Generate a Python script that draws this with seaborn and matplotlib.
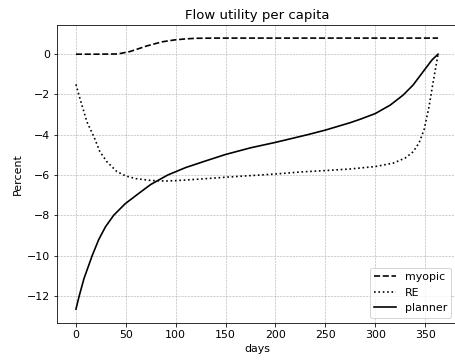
import matplotlib
matplotlib.use("Agg")
import matplotlib.pyplot as plt
import seaborn as sns

# values
myopic_days = [0, 20, 40, 45, 54, 62, 71, 80, 87, 99, 110, 120, 140, 200, 300, 363]
myopic_vals = [0, 0, 0.01, 0.04, 0.13, 0.26, 0.41, 0.53, 0.62, 0.71, 0.76, 0.79, 0.8, 0.8, 0.8, 0.8]

re_days = [0, 4, 11, 18, 24, 31, 41, 50, 60, 75, 90, 100, 125, 150, 175, 200,
           225, 250, 275, 300, 318, 330, 338, 344, 349, 354, 357, 360, 363]
re_vals = [-1.5, -2.2, -3.36, -4.1, -4.84, -5.34, -5.83, -6.05, -6.18, -6.27, -6.3, -6.28,
           -6.2, -6.11, -6.03, -5.95, -5.85, -5.78, -5.7, -5.58, -5.41, -5.16, -4.85, -4.4,
           -3.75, -2.6, -1.7, -0.85, 0.0]

planner_days = [0, 3.3, 8, 16.3, 22.8, 29.5, 37.8, 49.5, 66, 75, 92, 110, 130, 150, 175, 200,
                232, 250, 275, 285, 300, 315, 328, 338, 348, 357, 363]
planner_vals = [-12.66, -12.0, -11.15, -10.0, -9.21, -8.58, -8.0, -7.42, -6.8, -6.47, -6.0,
                -5.63, -5.3, -4.98, -4.65, -4.38, -4.0, -3.77, -3.4, -3.23, -2.95, -2.53,
                -2.03, -1.53, -0.87, -0.28, 0.0]

xticks = [0, 50, 100, 150, 200, 250, 300, 350]
yticks = [-12, -10, -8, -6, -4, -2, 0]

fig = plt.figure(figsize=(455 / 72, 361 / 72), dpi=72)
ax = fig.add_axes([57 / 455, 38 / 361, 400 / 455, 298 / 361])

sns.lineplot(x=myopic_days, y=myopic_vals, ax=ax, color="black", linestyle="--", lw=1.65, label="myopic")
sns.lineplot(x=re_days, y=re_vals, ax=ax, color="black", linestyle=":", lw=1.65, label="RE")
sns.lineplot(x=planner_days, y=planner_vals, ax=ax, color="black", linestyle="-", lw=1.65, label="planner")

ax.set_xlim(-19, 382)
ax.set_ylim(-13.35, 1.45)
ax.set_xticks(xticks)
ax.set_yticks(yticks)
ax.tick_params(labelsize=11)
ax.grid(True, linestyle="--", color="0.7", linewidth=0.6)
ax.set_title("Flow utility per capita", fontsize=13.2)
ax.set_xlabel("days", fontsize=11)
ax.set_ylabel("Percent", fontsize=11)
ax.legend(loc="lower right", fontsize=11)

fig.savefig("out.png", dpi=72)
